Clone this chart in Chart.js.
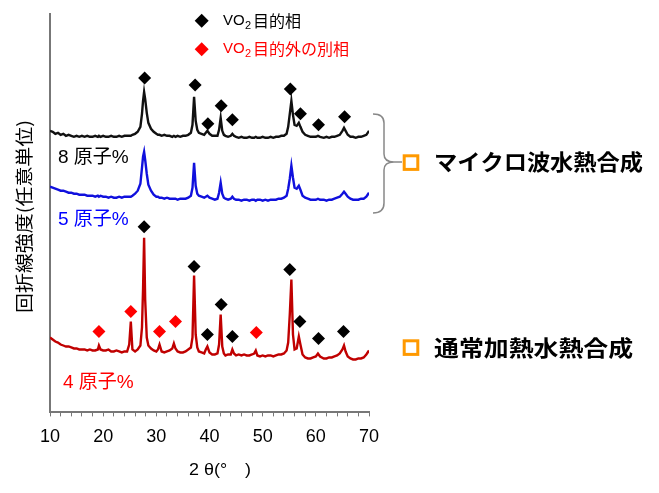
<!DOCTYPE html>
<html>
<head>
<meta charset="utf-8">
<script src="https://cdn.jsdelivr.net/npm/chart.js@4.4.1/dist/chart.umd.min.js"></script>
<style>
  html, body { margin: 0; padding: 0; background: #fff; }
  canvas { display: block; }
</style>
</head>
<body>
<canvas id="xrd" width="659" height="493"></canvas>
<script>
// 2θ grid shared by the three patterns (degrees)
const twoTheta = [
  10, 10.5, 11, 11.5, 12, 12.5, 13, 13.5, 14, 14.5, 15, 15.5, 16, 16.5, 17, 17.5, 18, 18.5, 19,
  19.2, 19.5, 20, 20.5, 21, 21.5, 22, 22.5, 23, 23.5, 24, 24.5,
  24.9, 25.2, 25.5, 26, 26.5, 27,
  27.3, 27.5, 27.7, 27.9, 28.2, 28.5, 29, 29.5, 30,
  30.3, 30.6, 31, 31.5, 32, 32.5, 33,
  33.3, 33.6, 34, 34.5, 35, 35.5, 36, 36.5,
  36.8, 37.1, 37.4, 37.7, 38, 38.5, 39,
  39.3, 39.6, 40, 40.5, 41, 41.5,
  41.8, 42.1, 42.4, 42.7, 43, 43.5, 44,
  44.3, 44.6, 45, 45.5, 46, 46.5, 47, 47.5, 48,
  48.4, 48.7, 49, 49.5, 50, 50.5, 51, 51.5, 52, 52.5, 53, 53.5, 54, 54.5,
  54.8, 55.1, 55.4, 55.7, 56, 56.4, 56.8, 57.1, 57.5, 58, 58.5, 59, 59.5, 60,
  60.4, 60.8, 61.5, 62, 62.5, 63, 63.5, 64, 64.5, 65,
  65.3, 65.6, 66, 66.5, 67, 67.5, 68, 68.5, 69, 69.5, 70
];

// intensities (arbitrary units, patterns shifted vertically as in the figure)
const micro8 = [
  282, 281, 279, 280, 278, 279, 277, 278, 277, 276, 277, 276, 277, 276, 277, 276, 276, 277, 276,
  277, 276, 277, 276, 276, 277, 276, 276, 277, 276, 277, 277,
  277, 277, 278, 279, 281, 286,
  299, 312, 321, 314, 300, 290, 284, 281, 279,
  278, 278, 277, 278, 277, 277, 276,
  277, 276, 277, 276, 277, 277, 278, 280,
  288, 316, 292, 283, 280, 279, 278,
  280, 282, 279, 277, 277, 277,
  283, 295, 282, 278, 277, 276, 277,
  279, 277, 276, 275, 276, 275, 275, 276, 275,
  275, 276, 275, 275, 276, 275, 275, 276, 275, 276, 276, 277, 277, 279,
  286, 299, 312, 298, 288, 287, 290, 286, 281, 278, 277, 276, 276, 276,
  277, 276, 275, 276, 275, 276, 276, 277, 278, 282,
  285, 282, 278, 276, 276, 275, 276, 276, 277, 278, 282
];
const micro5 = [
  226, 225, 224, 223, 222, 222, 221, 220, 220, 219, 219, 218, 218, 218, 217, 217, 217, 216, 217,
  216, 217, 216, 216, 215, 216, 215, 215, 216, 215, 216, 216,
  216, 216, 217, 219, 222, 229,
  245, 256, 261, 253, 239, 228, 222, 218, 216,
  216, 215, 215, 214, 215, 214, 214,
  214, 214, 213, 214, 214, 214, 215, 217,
  225, 250, 227, 219, 217, 216, 215,
  216, 217, 215, 214, 213, 214,
  220, 230, 219, 215, 214, 213, 214,
  216, 214, 213, 213, 212, 213, 213, 212, 213,
  213, 212, 213, 213, 212, 213, 212, 213, 213, 213, 214, 214, 215, 217,
  224, 234, 247, 235, 225, 224, 227, 223, 217, 215, 214, 213, 213, 213,
  214, 213, 213, 212, 213, 213, 214, 215, 216, 219,
  221, 219, 216, 214, 213, 213, 213, 214, 214, 216, 220
];
const conv4 = [
  75, 73, 71, 70, 68, 67, 66, 66, 65, 64, 64, 63, 63, 63, 62, 63, 62, 62, 63,
  67, 63, 62, 62, 63, 61, 61, 62, 61, 60, 61, 61,
  68, 91, 63, 61, 63, 67,
  85, 123, 175, 113, 75, 67, 64, 62, 61,
  63, 68, 61, 60, 61, 62, 64,
  69, 64, 61, 60, 60, 61, 63, 65,
  75, 137, 78, 65, 61, 60, 59,
  63, 66, 60, 58, 58, 59,
  68, 98, 66, 59, 57, 58, 58,
  63, 59, 57, 58, 57, 58, 57, 57, 58,
  59, 62, 57, 56, 57, 56, 57, 57, 56, 57, 58, 58, 59, 62,
  70, 98, 133, 78, 63, 64, 76, 68, 58, 55, 54, 54, 55, 56,
  59, 56, 54, 54, 55, 55, 56, 57, 59, 63,
  67, 61, 56, 54, 53, 53, 54, 54, 55, 58, 62
];

// peak markers: VO2 target phase (black) and other phases (red)
const targetTheta8 = [27.8, 37.3, 39.7, 42.2, 44.3, 55.2, 57.1, 60.5, 65.4];
const targetMark8 = [335, 328, 289, 307, 293, 324, 299, 288, 296];
const targetTheta4 = [27.7, 37.1, 39.6, 42.2, 44.3, 55.1, 57.0, 60.5, 65.2];
const targetMark4 = [186, 146, 78, 108, 76, 143, 91, 74, 81];
const otherTheta4 = [19.2, 25.2, 30.6, 33.6, 48.8];
const otherMark4 = [81, 101, 81, 91, 80];

const xTicks = [10, 20, 30, 40, 50, 60, 70];

const JP = '"Noto Sans CJK JP"';
const LAT = '"Liberation Sans", Arial';

function pts(xs, ys) {
    return xs.map((x, i) => ({ x: x, y: ys[i] }));
}

function fitText(ctx, text, x, y, width) {
    const w = ctx.measureText(text).width;
    ctx.save();
    ctx.translate(x, y);
    ctx.scale(width / w, 1);
    ctx.fillText(text, 0, 0);
    ctx.restore();
}

function diamond(ctx, x, y, r, color) {
    ctx.beginPath();
    ctx.moveTo(x, y - r);
    ctx.lineTo(x + r, y);
    ctx.lineTo(x, y + r);
    ctx.lineTo(x - r, y);
    ctx.closePath();
    ctx.fillStyle = color;
    ctx.fill();
}

const annotations = {
    id: 'annotations',
    afterDraw(chart) {
        const ctx = chart.ctx;
        ctx.save();
        ctx.textBaseline = 'middle';
        ctx.textAlign = 'left';

        // legend
        [[20.7, '#000', '目的相'], [49.3, '#ff0000', '目的外の別相']].forEach(([y, c, t]) => {
            diamond(ctx, 201.7, y, 7, c);
            ctx.fillStyle = c;
            ctx.font = '15px ' + LAT;
            ctx.fillText('VO', 223, y);
            ctx.font = '11px ' + LAT;
            ctx.fillText('2', 245, y + 5);
            ctx.font = '16px ' + JP;
            ctx.fillText(t, 253, y);
        });

        // sample labels
        ctx.font = '19px ' + LAT + ', ' + JP;
        ctx.fillStyle = '#000';
        ctx.fillText('8 原子%', 58, 158);
        ctx.fillStyle = '#0000ff';
        ctx.fillText('5 原子%', 58, 220);
        ctx.fillStyle = '#ff0000';
        ctx.fillText('4 原子%', 63, 383);

        // brace
        ctx.strokeStyle = '#888';
        ctx.lineWidth = 1.5;
        ctx.beginPath();
        ctx.moveTo(373, 114);
        ctx.quadraticCurveTo(384, 114, 384, 123);
        ctx.lineTo(384, 154);
        ctx.quadraticCurveTo(384, 162, 394, 162);
        ctx.lineTo(402, 162);
        ctx.moveTo(394, 162);
        ctx.quadraticCurveTo(384, 162, 384, 170);
        ctx.lineTo(384, 203);
        ctx.quadraticCurveTo(384, 213, 373, 213);
        ctx.stroke();

        // method labels
        ctx.strokeStyle = '#ff9900';
        ctx.lineWidth = 3;
        ctx.strokeRect(404.2, 155.8, 13.6, 13.6);
        ctx.strokeRect(404.2, 340.8, 13.6, 13.6);
        ctx.fillStyle = '#000';
        ctx.font = 'bold 22px ' + JP;
        fitText(ctx, 'マイクロ波水熱合成', 434, 162, 209);
        fitText(ctx, '通常加熱水熱合成', 434, 348, 199);

        // axis titles
        ctx.font = '18px ' + JP;
        ctx.save();
        ctx.translate(24, 216.5);
        ctx.rotate(-Math.PI / 2);
        fitText(ctx, '回折線強度(任意単位)', -96.5, 0, 193);
        ctx.restore();
        ctx.font = '16px ' + LAT + ', ' + JP;
        fitText(ctx, '2 θ(°　)', 189, 471, 62);

        ctx.restore();
    }
};

new Chart(document.getElementById('xrd'), {
    type: 'scatter',
    data: {
        datasets: [
            { data: pts(targetTheta8, targetMark8), pointStyle: 'rectRot', pointRadius: 6.5, backgroundColor: '#000', borderColor: '#000', borderWidth: 0, showLine: false },
            { data: pts(targetTheta4, targetMark4), pointStyle: 'rectRot', pointRadius: 6.5, backgroundColor: '#000', borderColor: '#000', borderWidth: 0, showLine: false },
            { data: pts(otherTheta4, otherMark4), pointStyle: 'rectRot', pointRadius: 6.5, backgroundColor: '#ff0000', borderColor: '#ff0000', borderWidth: 0, showLine: false },
            { data: pts(twoTheta, micro8), showLine: true, borderColor: '#111', borderWidth: 2.4, pointRadius: 0, tension: 0 },
            { data: pts(twoTheta, micro5), showLine: true, borderColor: '#1010dd', borderWidth: 2.4, pointRadius: 0, tension: 0 },
            { data: pts(twoTheta, conv4), showLine: true, borderColor: '#c00000', borderWidth: 2.4, pointRadius: 0, tension: 0 }
        ]
    },
    options: {
        responsive: false,
        animation: false,
        devicePixelRatio: 1,
        layout: { padding: { left: 42, right: 290, top: 14, bottom: 35 } },
        plugins: { legend: { display: false }, tooltip: { enabled: false } },
        scales: {
            x: {
                type: 'linear',
                min: 10,
                max: 70,
                border: { color: '#777', width: 2 },
                grid: { drawOnChartArea: false, drawTicks: true, tickLength: 4, color: '#777', lineWidth: 1 },
                ticks: {
                    stepSize: 2,
                    autoSkip: false,
                    maxRotation: 0,
                    padding: 10,
                    color: '#000',
                    font: { family: 'Liberation Sans, Arial', size: 18 },
                    callback: (v) => xTicks.includes(v) ? String(v) : ''
                }
            },
            y: {
                min: 0,
                max: 399,
                border: { color: '#777', width: 2 },
                grid: { display: false },
                ticks: { display: false }
            }
        }
    },
    plugins: [annotations]
});
</script>
</body>
</html>
